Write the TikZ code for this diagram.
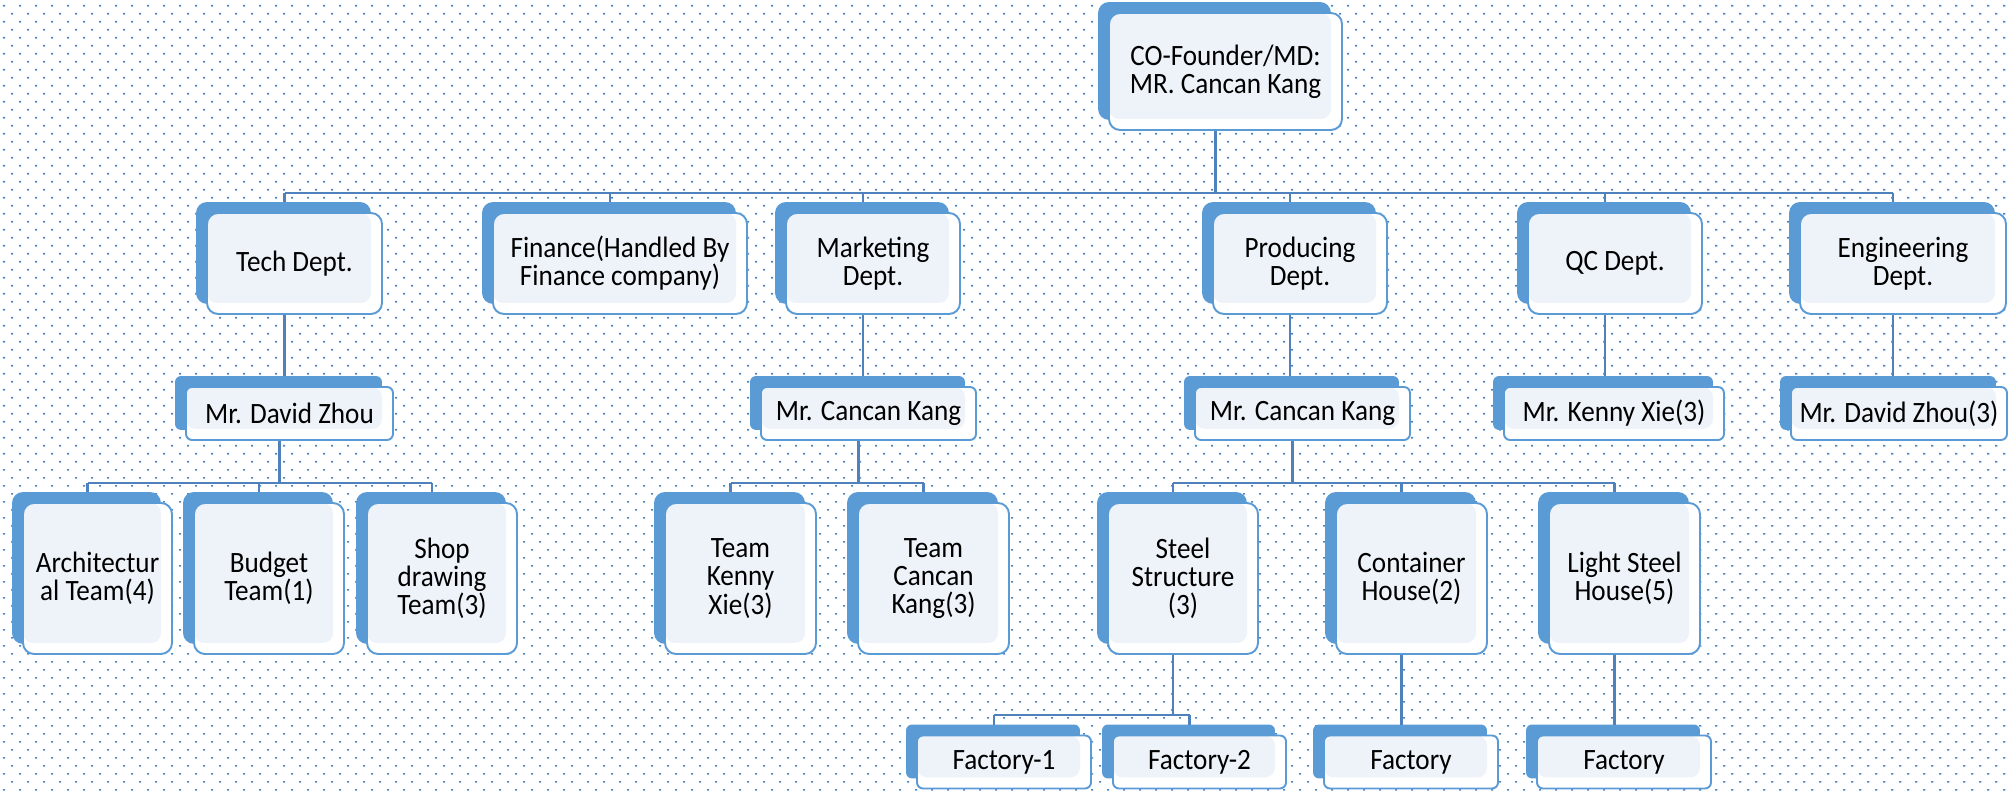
\documentclass[tikz,border=0pt]{standalone}
\usepackage{fontspec}
\setmainfont{Carlito}[FakeStretch=0.92]
\usetikzlibrary{backgrounds}
\definecolor{boxblue}{HTML}{5B9BD5}
\definecolor{dotblue}{HTML}{4A88CC}
\definecolor{linkblue}{HTML}{4F81BD}
\definecolor{boxfill}{HTML}{EEF3FA}
\tikzset{
  box/.style={draw=boxblue,line width=0.55pt,fill=white,rounded corners=1.1mm,inner sep=0pt,
    align=center,font=\fontsize{8.4}{8}\selectfont,
    path picture={\fill[boxfill,rounded corners=1mm] (path picture bounding box.north west)
      rectangle ([shift={(-0.11,0.11)}]path picture bounding box.south east);}},
  bigbox/.style={box,minimum height=1.01cm},
  tallbox/.style={box,minimum height=1.51cm},
  namebox/.style={box,rounded corners=0.6mm,minimum height=0.53cm},
  link/.style={draw=linkblue,line width=0.6pt}
}
\begin{document}
\begin{tikzpicture}
\useasboundingbox (0,0) rectangle (20.08,-7.92);
\coordinate (bus1) at (0,-1.93);
\coordinate (bus2) at (0,-4.83);
\coordinate (bus3) at (0,-7.15);

\node (ceo) at (12.255,-0.715) [box,minimum width=2.33cm,minimum height=1.17cm] {CO-Founder/MD:\\MR. Cancan Kang};

\node (tech) at (2.945,-2.635) [bigbox,minimum width=1.75cm] {Tech Dept.};
\node (fin) at (6.20,-2.635) [bigbox,minimum width=2.54cm] {Finance(Handled By\\Finance company)};
\node (mkt) at (8.73,-2.635) [bigbox,minimum width=1.74cm] {Marketing\\Dept.};
\node (prod) at (13.00,-2.635) [bigbox,minimum width=1.74cm] {Producing\\Dept.};
\node (qc) at (16.15,-2.635) [bigbox,minimum width=1.74cm] {QC Dept.};
\node (eng) at (19.03,-2.635) [bigbox,minimum width=2.06cm] {Engineering\\Dept.};

\node (zhou) at (2.895,-4.135) [namebox,minimum width=2.07cm] {Mr. David Zhou};
\node (mkang) at (8.685,-4.135) [namebox,minimum width=2.15cm] {Mr. Cancan Kang};
\node (pkang) at (13.025,-4.135) [namebox,minimum width=2.15cm] {Mr. Cancan Kang};
\node (xie) at (16.14,-4.135) [namebox,minimum width=2.20cm] {Mr. Kenny Xie(3)};
\node (zhou3) at (18.99,-4.135) [namebox,minimum width=2.16cm] {Mr. David Zhou(3)};

\node (arch) at (0.975,-5.785) [tallbox,minimum width=1.49cm] {Architectur\\al Team(4)};
\node (budget) at (2.69,-5.785) [tallbox,minimum width=1.50cm] {Budget\\Team(1)};
\node (shop) at (4.42,-5.785) [tallbox,minimum width=1.50cm] {Shop\\drawing\\Team(3)};
\node (tkenny) at (7.405,-5.785) [tallbox,minimum width=1.51cm] {Team\\Kenny\\Xie(3)};
\node (tkang) at (9.335,-5.785) [tallbox,minimum width=1.51cm] {Team\\Cancan\\Kang(3)};
\node (steel) at (11.83,-5.785) [tallbox,minimum width=1.50cm] {Steel\\Structure\\(3)};
\node (cont) at (14.115,-5.785) [tallbox,minimum width=1.51cm] {Container\\House(2)};
\node (light) at (16.245,-5.785) [tallbox,minimum width=1.51cm] {Light Steel\\House(5)};

\node (fac1) at (10.04,-7.62) [namebox,minimum width=1.74cm] {Factory-1};
\node (fac2) at (11.995,-7.62) [namebox,minimum width=1.73cm] {Factory-2};
\node (fac3) at (14.11,-7.62) [namebox,minimum width=1.74cm] {Factory};
\node (fac4) at (16.24,-7.62) [namebox,minimum width=1.74cm] {Factory};

% dotted paper and the blue backs of the boxes
\begin{scope}[on background layer]
\foreach \j in {0,...,49}
  \foreach \i in {0,...,125}
    \fill[dotblue] (0.03+0.16*\i,-0.05-0.16*\j) rectangle ++(0.022,-0.017)
                   (0.11+0.16*\i,-0.13-0.16*\j) rectangle ++(0.022,-0.017);
\foreach \n in {ceo,tech,fin,mkt,prod,qc,eng,arch,budget,shop,tkenny,tkang,steel,cont,light}
  \fill[boxblue,rounded corners=1.1mm] ([shift={(-0.1,0.1)}]\n.north west) rectangle ([shift={(-0.12,0.11)}]\n.south east);
\foreach \n in {zhou,mkang,pkang,xie,zhou3,fac1,fac2,fac3,fac4}
  \fill[boxblue,rounded corners=0.6mm] ([shift={(-0.1,0.1)}]\n.north west) rectangle ([shift={(-0.12,0.11)}]\n.south east);
\end{scope}

% connectors
\draw[link] ([xshift=-1mm]ceo.south) -- ([xshift=-1mm]ceo.south |- bus1);
\draw[link] ([xshift=-1mm]tech.north |- bus1) -- ([xshift=-1mm]eng.north |- bus1);
\foreach \n in {tech,fin,mkt,prod,qc,eng}
  \draw[link] ([xshift=-1mm]\n.north |- bus1) -- ([xshift=-1mm,yshift=1mm]\n.north);
\foreach \a/\b in {tech/zhou,mkt/mkang,prod/pkang,qc/xie,eng/zhou3,cont/fac3,light/fac4}
  \draw[link] ([xshift=-1mm]\a.south) -- ([xshift=-1mm,yshift=1mm]\a.south |- \b.north);
\foreach \p/\l/\r/\b in {zhou/arch/shop/bus2,mkang/tkenny/tkang/bus2,pkang/steel/light/bus2,steel/fac1/fac2/bus3}{
  \draw[link] ([xshift=-1mm]\p.south) -- ([xshift=-1mm]\p.south |- \b);
  \draw[link] ([xshift=-1mm]\l.north |- \b) -- ([xshift=-1mm]\r.north |- \b);
}
\foreach \n/\b in {arch/bus2,budget/bus2,shop/bus2,tkenny/bus2,tkang/bus2,steel/bus2,cont/bus2,light/bus2,fac1/bus3,fac2/bus3}
  \draw[link] ([xshift=-1mm]\n.north |- \b) -- ([xshift=-1mm,yshift=1mm]\n.north);
\end{tikzpicture}
\end{document}
